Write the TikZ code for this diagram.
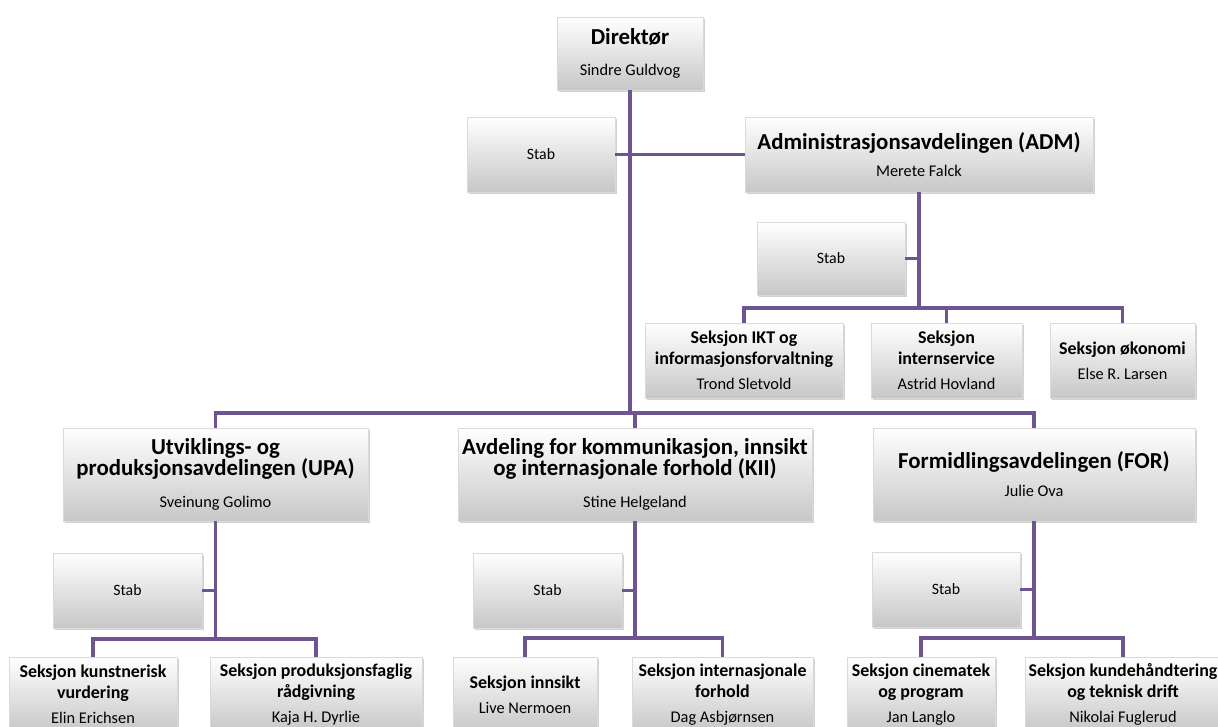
\documentclass[tikz,border=0pt]{standalone}
\usepackage{fontspec}
\setmainfont{Carlito}
\usetikzlibrary{shadows}

\definecolor{orgline}{RGB}{110,84,145}
\definecolor{boxedge}{RGB}{218,218,218}

\newcommand{\depthead}[1]{{\fontsize{13}{13.5}\selectfont\bfseries #1}}
\newcommand{\secthead}[1]{{\fontsize{10.2}{11}\selectfont\bfseries #1}}
\newcommand{\leader}[1]{{\fontsize{9.3}{10}\selectfont #1}}

\tikzset{
  unit/.style={draw=boxedge, line width=0.4pt, top color=white, bottom color=black!22,
    drop shadow={shadow xshift=1.2pt, shadow yshift=-1.2pt, opacity=0.3, fill=black!60},
    align=center, inner sep=1pt},
  size/.style 2 args={minimum width=#1cm, minimum height=#2cm},
  stabbox/.style={unit, font=\fontsize{9}{10}\selectfont},
  link/.style={draw=orgline, line width=1.9pt},
}

\begin{document}
\begin{tikzpicture}[x=0.02cm, y=-0.02cm]
\useasboundingbox (0,0) rectangle (1218,727);
\clip (0,0) rectangle (1218,727);

% Top level
\node[unit, size={2.92}{1.46}] (dir) at (630,53.5)
  {\depthead{Direktør}\\[6pt]\leader{Sindre Guldvog}};
\node[stabbox, size={2.96}{1.5}] (stab0) at (541,154.5) {Stab};
\node[unit, size={6.96}{1.5}] (adm) at (919,154.5)
  {\depthead{Administrasjonsavdelingen (ADM)}\\[3pt]\leader{Merete Falck}};

% ADM sections
\node[stabbox, size={2.96}{1.46}] (admstab) at (831,258.5) {Stab};
\node[unit, size={3.96}{1.5}] (ikt) at (744,360.5)
  {\secthead{Seksjon IKT og}\\\secthead{informasjonsforvaltning}\\[2pt]\leader{Trond Sletvold}};
\node[unit, size={3.02}{1.5}] (intern) at (946.5,360.5)
  {\secthead{Seksjon}\\\secthead{internservice}\\[2pt]\leader{Astrid Hovland}};
\node[unit, size={2.9}{1.5}] (okon) at (1122.5,360.5)
  {\secthead{Seksjon økonomi}\\[2pt]\leader{Else R. Larsen}};

% Departments
\node[unit, size={6.1}{1.86}] (upa) at (215.5,474.5)
  {\depthead{Utviklings- og}\\\depthead{produksjonsavdelingen (UPA)}\\[6pt]\leader{Sveinung Golimo}};
\node[unit, size={7.08}{1.86}] (kii) at (635,474.5)
  {\depthead{Avdeling for kommunikasjon, innsikt}\\\depthead{og internasjonale forhold (KII)}\\[6pt]\leader{Stine Helgeland}};
\node[unit, size={6.44}{1.86}] (for) at (1034,474.5)
  {\depthead{Formidlingsavdelingen (FOR)}\\[4pt]\leader{Julie Ova}};

% Department staff
\node[stabbox, size={2.98}{1.5}] (upastab) at (127.5,590.5) {Stab};
\node[stabbox, size={2.98}{1.5}] (kiistab) at (547.5,590.5) {Stab};
\node[stabbox, size={2.96}{1.5}] (forstab) at (946,589.5) {Stab};

% Bottom sections
\node[unit, size={3.36}{1.5}] (kunst) at (93,694.5)
  {\secthead{Seksjon kunstnerisk}\\\secthead{vurdering}\\[2pt]\leader{Elin Erichsen}};
\node[unit, size={4.24}{1.5}] (prodf) at (316,694.5)
  {\secthead{Seksjon produksjonsfaglig}\\\secthead{rådgivning}\\[2pt]\leader{Kaja H. Dyrlie}};
\node[unit, size={2.88}{1.5}] (innsikt) at (525,694.5)
  {\secthead{Seksjon innsikt}\\[2pt]\leader{Live Nermoen}};
\node[unit, size={3.62}{1.5}] (intl) at (722.5,694.5)
  {\secthead{Seksjon internasjonale}\\\secthead{forhold}\\[2pt]\leader{Dag Asbjørnsen}};
\node[unit, size={2.96}{1.5}] (cine) at (921,694.5)
  {\secthead{Seksjon cinematek}\\\secthead{og program}\\[2pt]\leader{Jan Langlo}};
\node[unit, size={3.92}{1.5}] (kunde) at (1123,694.5)
  {\secthead{Seksjon kundehåndtering}\\\secthead{og teknisk drift}\\[2pt]\leader{Nikolai Fuglerud}};

% Bars
\coordinate (mainbar) at (630,413);
\coordinate (admbar) at (919,308);
\coordinate (upabar) at (215.5,639);
\coordinate (kiibar) at (635,638);
\coordinate (forbar) at (1034,638);

% Connectors
\draw[link] (dir.south) -- (mainbar);
\draw[link] (stab0.east) -- (adm.west);
\draw[link] (upa.north) |- (mainbar) -| (for.north);
\draw[link] (kii.north) -- (kii.north |- mainbar);

\draw[link] (adm.south) -- (admbar);
\draw[link] (admstab.east) -- (admstab.east -| admbar);
\draw[link] (ikt.north) |- (admbar) -| (okon.north);
\draw[link] (intern.north) -- (intern.north |- admbar);

\draw[link] (upa.south) -- (upabar);
\draw[link] (upastab.east) -- (upastab.east -| upabar);
\draw[link] (kunst.north) |- (upabar) -| (prodf.north);

\draw[link] (kii.south) -- (kiibar);
\draw[link] (kiistab.east) -- (kiistab.east -| kiibar);
\draw[link] (innsikt.north) |- (kiibar) -| (intl.north);

\draw[link] (for.south) -- (forbar);
\draw[link] (forstab.east) -- (forstab.east -| forbar);
\draw[link] (cine.north) |- (forbar) -| (kunde.north);

\end{tikzpicture}
\end{document}
